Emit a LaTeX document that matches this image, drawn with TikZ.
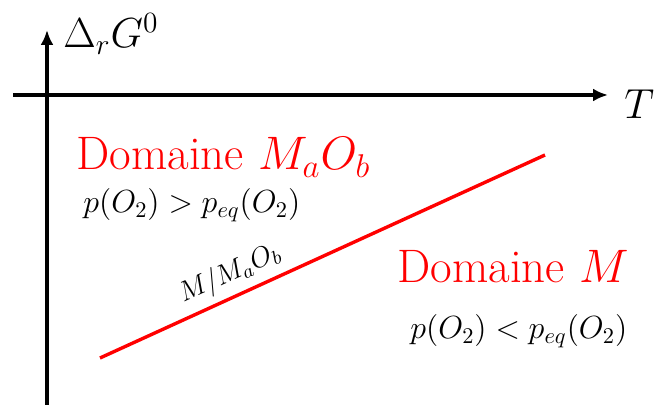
\RequirePackage{fix-cm}
\documentclass[tikz,border=0pt]{standalone}
\usetikzlibrary{arrows.meta}
\begin{document}
\begin{tikzpicture}[x=0.5pt,y=-0.5pt,
  axis/.style={line width=2pt,-{Latex[length=7.5pt,width=6.5pt]}},
  redtxt/.style={text=red,inner sep=0pt,font=\fontsize{23.5}{27}\selectfont},
  blktxt/.style={inner sep=0pt,font=\fontsize{16}{19}\selectfont},
  lbl/.style={inner sep=0pt,font=\fontsize{21}{25}\selectfont}]
\useasboundingbox (0,0) rectangle (654,405);
\coordinate (ybot) at (47,405);
\coordinate (ytop) at (47,30);
\coordinate (xl) at (13,95);
\coordinate (xr) at (608,95);
\draw[axis] (ybot) -- (ytop);
\draw[axis] (xl) -- (xr);
\node[lbl,anchor=base west] (dg) at (63,48) {$\Delta_r G^0$};
\node[lbl,anchor=base west] (t) at (624,119) {$T$};
\coordinate (la) at (100,358);
\coordinate (lb) at (545,155);
\draw[red,line width=1.7pt] (la) -- (lb);
\node[redtxt,anchor=base west] (d1) at (76,170) {Domaine $M_aO_b$};
\node[blktxt,anchor=base west] (c1) at (83,213) {$p(O_2) > p_{eq}(O_2)$};
\node[redtxt,anchor=base west] (d2) at (397,283) {Domaine $M$};
\node[blktxt,anchor=base west] (c2) at (410,339) {$p(O_2) < p_{eq}(O_2)$};
\node[inner sep=0pt,font=\fontsize{14}{16}\selectfont,rotate=24.5] (m) at (230,274) {$M/M_aO_b$};
\end{tikzpicture}
\end{document}
